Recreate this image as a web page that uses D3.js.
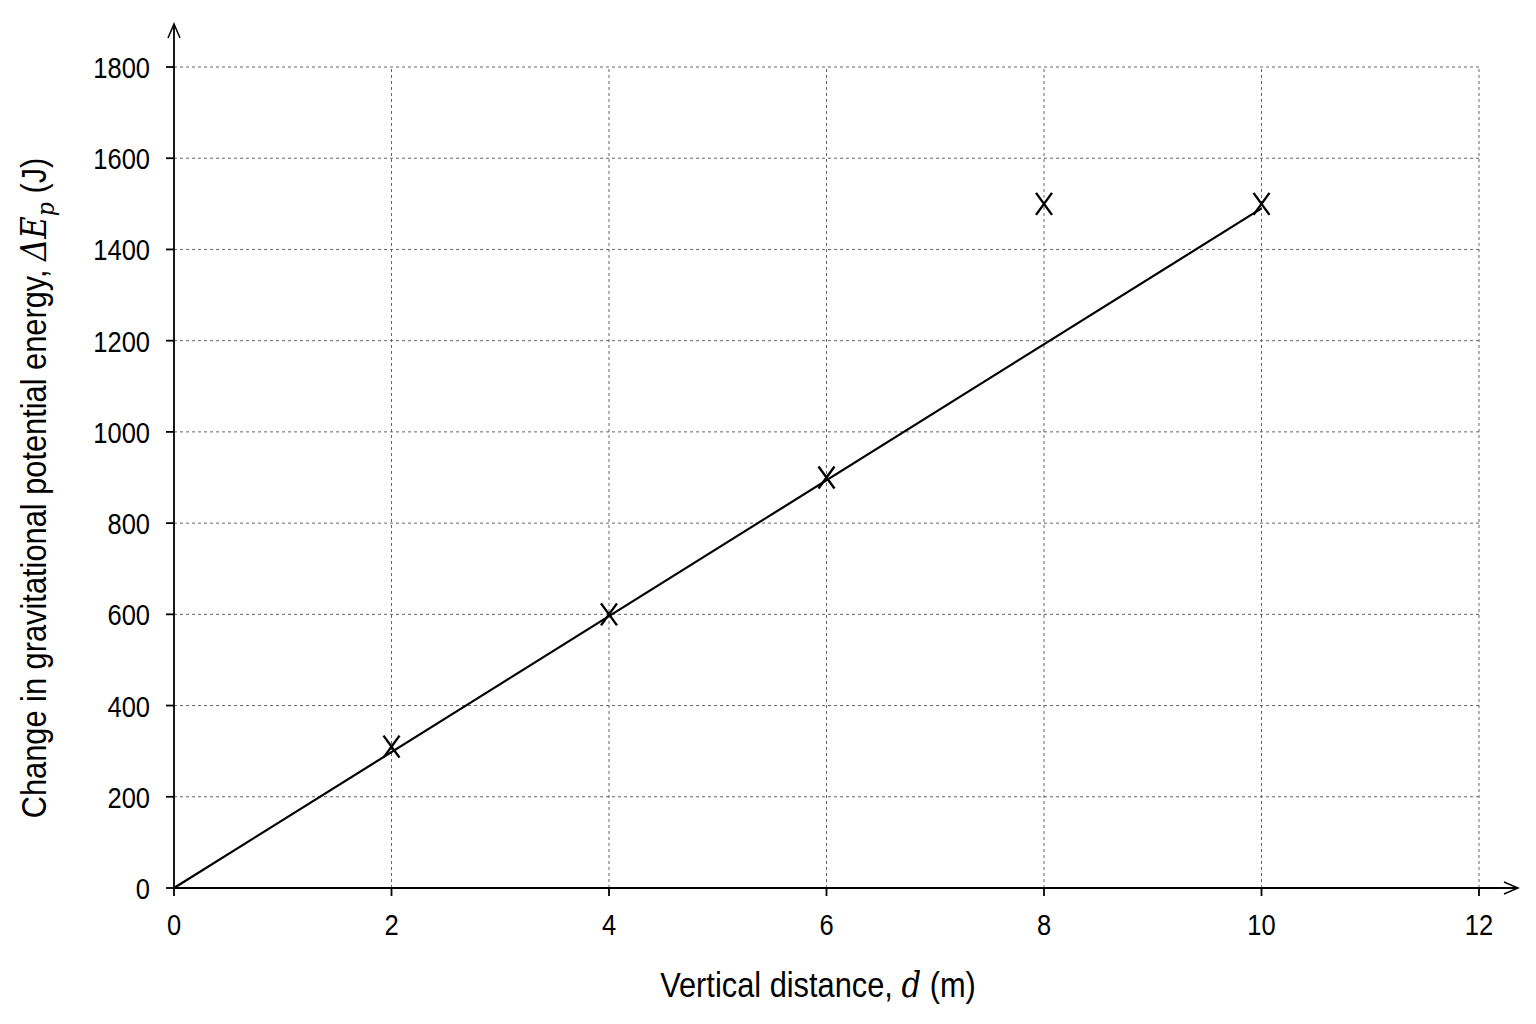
<!DOCTYPE html>
<html><head><meta charset="utf-8">
<script src="https://cdn.jsdelivr.net/npm/d3@7"></script>
<style>body{margin:0;background:#fff}text{font-family:"Liberation Sans Narrow","Arial Narrow","Liberation Sans",sans-serif}</style>
</head><body><svg id="c" width="1536" height="1024"></svg>
<script>
const xTicks=[0,2,4,6,8,10,12];
const yTicks=[0,200,400,600,800,1000,1200,1400,1600,1800];
const pointsD=[2,4,6,8,10];
const pointsE=[310,600,900,1500,1500];
const lineD=[0,10];
const lineE=[0,1490];

const svg=d3.select("#c");
const x=d3.scaleLinear().domain([0,12]).range([174,1479]);
const y=d3.scaleLinear().domain([0,1800]).range([888,67]);
const g=svg.append("g");
g.selectAll(".vg").data(xTicks.slice(1)).join("line").attr("x1",d=>x(d)).attr("x2",d=>x(d)).attr("y1",y(0)).attr("y2",y(1800)).attr("stroke","#666").attr("stroke-dasharray","3,3").attr("stroke-width",1);
g.selectAll(".hg").data(yTicks.slice(1)).join("line").attr("y1",d=>y(d)).attr("y2",d=>y(d)).attr("x1",x(0)).attr("x2",x(12)).attr("stroke","#666").attr("stroke-dasharray","3,3").attr("stroke-width",1);
g.append("line").attr("x1",x(0)).attr("x2",1516).attr("y1",y(0)).attr("y2",y(0)).attr("stroke","#000").attr("stroke-width",1.8);
g.append("line").attr("x1",x(0)).attr("x2",x(0)).attr("y1",y(0)).attr("y2",26).attr("stroke","#000").attr("stroke-width",1.8);
g.append("path").attr("d",`M1504,${y(0)-6}L1518,${y(0)}L1504,${y(0)+6}`).attr("fill","none").attr("stroke","#000").attr("stroke-width",1.5);
g.append("path").attr("d",`M${x(0)-6},38L${x(0)},24L${x(0)+6},38`).attr("fill","none").attr("stroke","#000").attr("stroke-width",1.5);
g.selectAll(".xt").data(xTicks).join("line").attr("x1",d=>x(d)).attr("x2",d=>x(d)).attr("y1",y(0)).attr("y2",y(0)+8).attr("stroke","#000").attr("stroke-width",1.8);
g.selectAll(".yt").data(yTicks).join("line").attr("y1",d=>y(d)).attr("y2",d=>y(d)).attr("x1",x(0)-8).attr("x2",x(0)).attr("stroke","#000").attr("stroke-width",1.8);
g.selectAll(".xl").data(xTicks).join("text").attr("transform",d=>`translate(${x(d)},${y(0)+47}) scale(0.85,1)`).attr("text-anchor","middle").attr("font-size",30).text(d=>d);
g.selectAll(".yl").data(yTicks).join("text").attr("transform",d=>`translate(${x(0)-24},${y(d)+11}) scale(0.85,1)`).attr("text-anchor","end").attr("font-size",30).text(d=>d);
g.append("path").attr("d",d3.line().x(d=>x(d[0])).y(d=>y(d[1]))(lineD.map((d,i)=>[d,lineE[i]]))).attr("stroke","#000").attr("stroke-width",2.2).attr("fill","none");
g.selectAll(".pt").data(pointsD.map((d,i)=>[d,pointsE[i]])).join("path")
 .attr("d",d=>{const cx=x(d[0]),cy=y(d[1]),sx=8,sy=11;return `M${cx-sx},${cy-sy}L${cx+sx},${cy+sy}M${cx-sx},${cy+sy}L${cx+sx},${cy-sy}`})
 .attr("stroke","#000").attr("stroke-width",2.4).attr("fill","none");
const xl=svg.append("text").attr("transform","translate(818,997) scale(0.88,1)").attr("text-anchor","middle").attr("font-size",35);
xl.append("tspan").text("Vertical distance, ");
xl.append("tspan").attr("font-family","DejaVu Serif, serif").attr("font-style","italic").text("d");
xl.append("tspan").text(" (m)");
const yl=svg.append("text").attr("transform","translate(46,488) rotate(-90) scale(0.88,1)").attr("text-anchor","middle").attr("font-size",35);
yl.append("tspan").text("Change in gravitational potential energy, ");
yl.append("tspan").attr("font-family","DejaVu Serif, serif").attr("font-style","italic").text("ΔE");
yl.append("tspan").attr("font-family","DejaVu Serif, serif").attr("font-style","italic").attr("font-size",25).attr("dy",8).text("p");
yl.append("tspan").attr("dy",-8).text(" (J)");
</script></body></html>
